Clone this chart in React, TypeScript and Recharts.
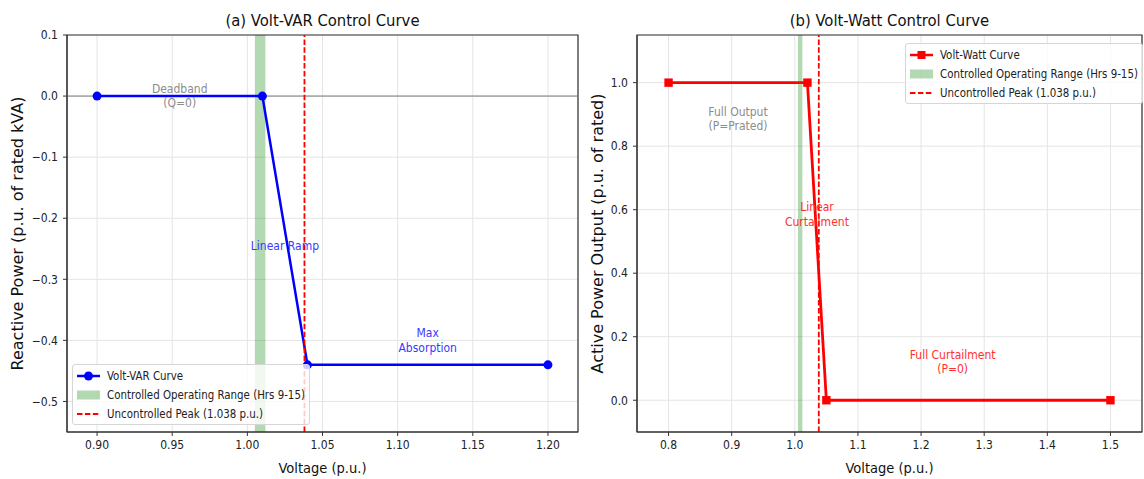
import React from "react";
import {
  CartesianGrid,
  Legend,
  Line,
  LineChart,
  ReferenceArea,
  ReferenceDot,
  ReferenceLine,
  XAxis,
  YAxis,
} from "recharts";

const FONT = '"DejaVu Sans Condensed", "DejaVu Sans", sans-serif';
const FONT_V = '"DejaVu Sans", sans-serif';

// Volt-VAR curve points
const varVoltage = [0.9, 1.01, 1.04, 1.2];
const varQ = [0, 0, -0.44, -0.44];
// Volt-Watt curve points
const wattVoltage = [0.8, 1.02, 1.05, 1.5];
const wattP = [1, 1, 0, 0];

const varXTicks = [0.9, 0.95, 1.0, 1.05, 1.1, 1.15, 1.2];
const varYTicks = [-0.5, -0.4, -0.3, -0.2, -0.1, 0, 0.1];
const wattXTicks = [0.8, 0.9, 1.0, 1.1, 1.2, 1.3, 1.4, 1.5];
const wattYTicks = [0, 0.2, 0.4, 0.6, 0.8, 1.0];

const varXDomain: [number, number] = [0.88, 1.22];
const varYDomain: [number, number] = [-0.55, 0.1];
const wattXDomain: [number, number] = [0.75, 1.55];
const wattYDomain: [number, number] = [-0.1, 1.15];

const bandLow = 1.005;
const bandHigh = 1.012;
const uncontrolledPeak = 1.038;

type Note = { x: number; y: number; lines: string[]; color: string };

const varNotes: Note[] = [
  { x: 0.955, y: 0.0, lines: ["Deadband", "(Q=0)"], color: "#8c8c8c" },
  { x: 1.025, y: -0.245, lines: ["Linear Ramp"], color: "#3a3aff" },
  { x: 1.12, y: -0.4, lines: ["Max", "Absorption"], color: "#3a3aff" },
];
const wattNotes: Note[] = [
  { x: 0.91, y: 0.885, lines: ["Full Output", "(P=Prated)"], color: "#8c8c8c" },
  { x: 1.035, y: 0.585, lines: ["Linear", "Curtailment"], color: "#ff3030" },
  { x: 1.25, y: 0.12, lines: ["Full Curtailment", "(P=0)"], color: "#ff3030" },
];

const varData = varVoltage.map((v, i) => ({ v, q: varQ[i] }));
const wattData = wattVoltage.map((v, i) => ({ v, p: wattP[i] }));

const minus = (s: string) => s.replace("-", "\u2212");
const tickStyle = { fontSize: 12, fill: "#222", fontFamily: FONT };

function noteLabel(n: Note) {
  return (props: any) => {
    const vb = props.viewBox || {};
    const cx = vb.x + (vb.width || 0) / 2;
    const cy = vb.y + (vb.height || 0) / 2;
    const lh = 14.5;
    const y0 = cy - ((n.lines.length - 1) * lh) / 2;
    return (
      <text
        textAnchor="middle"
        dominantBaseline="central"
        fontFamily={FONT}
        fontSize={12}
        fill={n.color}
      >
        {n.lines.map((l, i) => (
          <tspan key={i} x={cx} y={y0 + i * lh}>
            {l}
          </tspan>
        ))}
      </text>
    );
  };
}

function LegendBox({ curveLabel, color, square }: { curveLabel: string; color: string; square?: boolean }) {
  const row = { display: "flex", alignItems: "center", height: 19 } as const;
  return (
    <div
      style={{
        background: "rgba(255,255,255,0.8)",
        border: "1px solid #d6d6d6",
        borderRadius: 3,
        padding: "1px 4px",
        fontFamily: FONT,
        fontSize: 11.4,
        color: "#222",
        whiteSpace: "nowrap",
      }}
    >
      <div style={row}>
        <svg width={23} height={12}>
          <line x1={0} y1={6} x2={23} y2={6} stroke={color} strokeWidth={2.5} />
          {square ? <rect x={7.5} y={2} width={8} height={8} fill={color} /> : <circle cx={11.5} cy={6} r={4.5} fill={color} />}
        </svg>
        <span style={{ marginLeft: 7 }}>{curveLabel}</span>
      </div>
      <div style={row}>
        <svg width={23} height={12}>
          <rect x={0} y={1.5} width={23} height={9} fill="green" fillOpacity={0.3} />
        </svg>
        <span style={{ marginLeft: 7 }}>Controlled Operating Range (Hrs 9-15)</span>
      </div>
      <div style={row}>
        <svg width={23} height={12}>
          <line x1={0} y1={6} x2={23} y2={6} stroke="red" strokeWidth={1.8} strokeDasharray="5.5 2.4" />
        </svg>
        <span style={{ marginLeft: 7 }}>Uncontrolled Peak (1.038 p.u.)</span>
      </div>
    </div>
  );
}

const titleStyle = (left: number, width: number): React.CSSProperties => ({
  position: "absolute",
  left,
  width,
  top: 11,
  textAlign: "center",
  fontFamily: FONT,
  fontSize: 16.5,
  color: "#111",
});

const yLabelStyle = { fontSize: 16, fill: "#111", fontFamily: FONT_V, textAnchor: "middle" } as const;

export default function App() {
  return (
    <div style={{ position: "absolute", left: 0, top: 0, width: 1144, height: 479, background: "#fff", overflow: "hidden" }}>
      <div style={titleStyle(67, 511)}>(a) Volt-VAR Control Curve</div>
      <div style={titleStyle(637, 505)}>(b) Volt-Watt Control Curve</div>

      <div style={{ position: "absolute", left: 0, top: 0 }}>
        <LineChart width={580} height={479} data={varData} margin={{ top: 35, right: 2, bottom: 0, left: 0 }}>
          <CartesianGrid stroke="#e4e4e4" strokeWidth={1} />
          <XAxis
            dataKey="v"
            type="number"
            domain={varXDomain}
            ticks={varXTicks}
            allowDataOverflow
            height={47}
            tick={tickStyle}
            tickSize={4}
            tickMargin={4}
            stroke="#333"
            tickFormatter={(v: number) => v.toFixed(2)}
            label={{ value: "Voltage (p.u.)", position: "center", dy: 12, style: { fontSize: 14.5, fill: "#111", fontFamily: FONT } }}
          />
          <YAxis
            type="number"
            domain={varYDomain}
            ticks={varYTicks}
            allowDataOverflow
            width={67}
            tick={tickStyle}
            tickSize={4}
            tickMargin={5}
            stroke="#333"
            tickFormatter={(v: number) => minus(v.toFixed(1))}
            label={{ value: "Reactive Power (p.u. of rated kVA)", angle: -90, position: "center", dx: -16, style: yLabelStyle }}
          />
          <ReferenceArea x1={bandLow} x2={bandHigh} fill="green" fillOpacity={0.3} stroke="none" />
          <ReferenceLine y={0} stroke="#7a7a7a" strokeWidth={1} />
          <Line
            dataKey="q"
            stroke="blue"
            strokeWidth={2.5}
            dot={{ r: 4.5, fill: "blue", stroke: "blue", strokeWidth: 0 }}
            activeDot={false}
            isAnimationActive={false}
          />
          <ReferenceLine x={uncontrolledPeak} stroke="red" strokeWidth={1.8} strokeDasharray="5.5 2.4" />
          {varNotes.map((n, i) => (
            <ReferenceDot key={i} x={n.x} y={n.y} r={1} fill="none" stroke="none" ifOverflow="visible" label={{ content: noteLabel(n) }} />
          ))}
          <ReferenceArea x1={varXDomain[0]} x2={varXDomain[1]} y1={varYDomain[0]} y2={varYDomain[1]} fill="none" stroke="#333" strokeWidth={1.2} />
          <Legend
            layout="vertical"
            align="center"
            verticalAlign="middle"
            wrapperStyle={{ left: 72, top: 364, width: "auto", height: "auto" }}
            content={() => <LegendBox curveLabel="Volt-VAR Curve" color="blue" />}
          />
        </LineChart>
      </div>

      <div style={{ position: "absolute", left: 580, top: 0 }}>
        <LineChart width={564} height={479} data={wattData} margin={{ top: 35, right: 2, bottom: 0, left: 0 }}>
          <CartesianGrid stroke="#e4e4e4" strokeWidth={1} />
          <XAxis
            dataKey="v"
            type="number"
            domain={wattXDomain}
            ticks={wattXTicks}
            allowDataOverflow
            height={47}
            tick={tickStyle}
            tickSize={4}
            tickMargin={4}
            stroke="#333"
            tickFormatter={(v: number) => v.toFixed(1)}
            label={{ value: "Voltage (p.u.)", position: "center", dy: 12, style: { fontSize: 14.5, fill: "#111", fontFamily: FONT } }}
          />
          <YAxis
            type="number"
            domain={wattYDomain}
            ticks={wattYTicks}
            allowDataOverflow
            width={57}
            tick={tickStyle}
            tickSize={4}
            tickMargin={5}
            stroke="#333"
            tickFormatter={(v: number) => minus(v.toFixed(1))}
            label={{ value: "Active Power Output (p.u. of rated)", angle: -90, position: "center", dx: -11, style: yLabelStyle }}
          />
          <ReferenceArea x1={bandLow} x2={bandHigh} fill="green" fillOpacity={0.3} stroke="none" />
          <Line
            dataKey="p"
            stroke="red"
            strokeWidth={2.8}
            dot={(p: any) => <rect key={p.index} x={p.cx - 4.2} y={p.cy - 4.2} width={8.4} height={8.4} fill="red" />}
            activeDot={false}
            isAnimationActive={false}
          />
          <ReferenceLine x={uncontrolledPeak} stroke="red" strokeWidth={1.8} strokeDasharray="5.5 2.4" />
          {wattNotes.map((n, i) => (
            <ReferenceDot key={i} x={n.x} y={n.y} r={1} fill="none" stroke="none" ifOverflow="visible" label={{ content: noteLabel(n) }} />
          ))}
          <ReferenceArea x1={wattXDomain[0]} x2={wattXDomain[1]} y1={wattYDomain[0]} y2={wattYDomain[1]} fill="none" stroke="#333" strokeWidth={1.2} />
          <Legend
            layout="vertical"
            align="center"
            verticalAlign="middle"
            wrapperStyle={{ left: 325, top: 43, width: "auto", height: "auto" }}
            content={() => <LegendBox curveLabel="Volt-Watt Curve" color="red" square />}
          />
        </LineChart>
      </div>
    </div>
  );
}
